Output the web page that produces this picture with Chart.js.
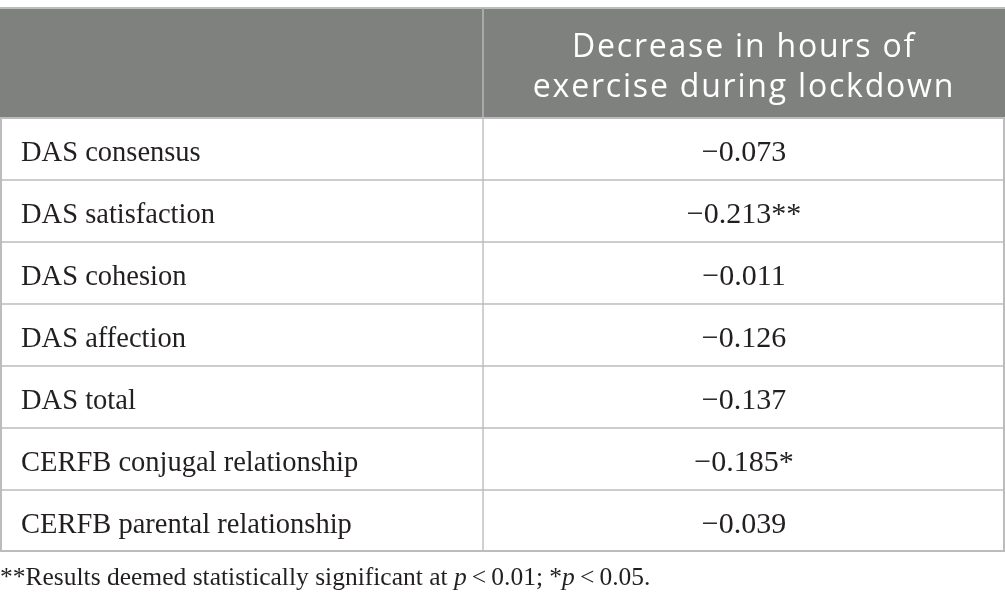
<!DOCTYPE html>
<html>
<head>
<meta charset="utf-8">
<title>Decrease in hours of exercise during lockdown</title>
<script src="https://cdn.jsdelivr.net/npm/chart.js@4.4.1/dist/chart.umd.min.js"></script>
<style>
  html, body { margin: 0; padding: 0; background: #ffffff; }
  #wrap { width: 1005px; height: 612px; }
</style>
</head>
<body>
<div id="wrap"><canvas id="corrTable" width="1005" height="612"></canvas></div>
<script>
// table content
const rowLabels = [
    'DAS consensus',
    'DAS satisfaction',
    'DAS cohesion',
    'DAS affection',
    'DAS total',
    'CERFB conjugal relationship',
    'CERFB parental relationship'
];
const corrValues = [-0.073, -0.213, -0.011, -0.126, -0.137, -0.185, -0.039];
const sigMarks = ['', '**', '', '', '', '*', ''];
const headerLines = ['Decrease in hours of', 'exercise during lockdown'];
// footnote pieces: [text, italic]
const footnoteParts = [
    ['**Results deemed statistically significant at ', false],
    ['p', true],
    ['\u2009<\u20090.01; *', false],
    ['p', true],
    ['\u2009<\u20090.05.', false]
];

// layout / style
const COL_SPLIT = 483 / 1005;   // share of width used by the label column
const HEADER_TOP = 8;
const HEADER_BG = '#7f817f';
const LINE = '#bcbcbc';
const TEXT = '#231f20';
const SERIF = '"Liberation Serif", "Times New Roman", serif';
const SANS = '"Open Sans", "Noto Sans", sans-serif';

function fmt(v, mark) {
    return v.toFixed(3).replace('-', '\u2212') + mark;
}

// draws header, cell text, frame and footnote around the bar "cells"
const tablePlugin = {
    id: 'tablePlugin',
    beforeDatasetsDraw(chart) {
        const { ctx, chartArea } = chart;
        const x = chart.scales.x;
        const splitPx = x.getPixelForValue(COL_SPLIT);
        ctx.save();
        ctx.fillStyle = HEADER_BG;
        ctx.fillRect(chartArea.left, HEADER_TOP, chartArea.right - chartArea.left, chartArea.top - HEADER_TOP);
        ctx.fillStyle = LINE;
        ctx.fillRect(chartArea.left, HEADER_TOP - 1, chartArea.right - chartArea.left, 2);
        ctx.fillStyle = '#a9aaa9';
        ctx.fillRect(splitPx - 1, HEADER_TOP, 2, chartArea.top - HEADER_TOP);

        // header title
        const cx = x.getPixelForValue(COL_SPLIT + (1 - COL_SPLIT) / 2);
        ctx.fillStyle = '#ffffff';
        ctx.font = '32px ' + SANS;
        ctx.letterSpacing = '1.8px';
        ctx.textAlign = 'center';
        ctx.textBaseline = 'alphabetic';
        ctx.fillText(headerLines[0], cx, 57);
        ctx.fillText(headerLines[1], cx, 97);
        ctx.restore();
    },
    afterDatasetsDraw(chart) {
        const { ctx, chartArea } = chart;
        const x = chart.scales.x;
        const y = chart.scales.y;
        const cx = x.getPixelForValue(COL_SPLIT + (1 - COL_SPLIT) / 2);
        ctx.save();

        // outer frame
        ctx.strokeStyle = LINE;
        ctx.lineWidth = 2;
        ctx.strokeRect(chartArea.left + 1, chartArea.top, chartArea.right - chartArea.left - 2, chartArea.bottom - chartArea.top - 1);

        // label column (category labels of the y scale)
        ctx.fillStyle = TEXT;
        ctx.font = '28.5px ' + SERIF;
        ctx.textAlign = 'left';
        ctx.textBaseline = 'middle';
        y.ticks.forEach((t) => {
            ctx.fillText(y.getLabelForValue(t.value), x.getPixelForValue(0) + 21, y.getPixelForValue(t.value) + 5);
        });

        // value column
        ctx.font = '30px ' + SERIF;
        ctx.textAlign = 'center';
        corrValues.forEach((v, i) => {
            ctx.fillText(fmt(v, sigMarks[i]), cx, y.getPixelForValue(i) + 4);
        });

        // footnote
        let fx = chartArea.left;
        const fy = chartArea.bottom + 33;
        ctx.textAlign = 'left';
        ctx.textBaseline = 'alphabetic';
        footnoteParts.forEach(([t, it]) => {
            ctx.font = (it ? 'italic ' : '') + '25.5px ' + SERIF;
            ctx.fillText(t, fx, fy);
            fx += ctx.measureText(t).width;
        });
        ctx.restore();
    }
};

const tableCtx = document.getElementById('corrTable').getContext('2d');
new Chart(tableCtx, {
    type: 'bar',
    data: {
        labels: rowLabels,
        datasets: [{
            label: 'Variable',
            data: rowLabels.map(() => COL_SPLIT),
            backgroundColor: '#ffffff',
            borderColor: LINE,
            borderWidth: 1,
            borderSkipped: false,
            barPercentage: 1,
            categoryPercentage: 1
        }, {
            label: 'Correlation',
            data: corrValues.map(() => 1 - COL_SPLIT),
            backgroundColor: '#ffffff',
            borderColor: LINE,
            borderWidth: 1,
            borderSkipped: false,
            barPercentage: 1,
            categoryPercentage: 1
        }]
    },
    options: {
        indexAxis: 'y',
        responsive: false,
        animation: false,
        layout: { padding: { top: 118, bottom: 60, left: 0, right: 0 } },
        plugins: {
            legend: { display: false },
            tooltip: { enabled: false }
        },
        scales: {
            x: { display: false, stacked: true, min: 0, max: 1 },
            y: { display: false, stacked: true, offset: true }
        }
    },
    plugins: [tablePlugin]
});
</script>
</body>
</html>
